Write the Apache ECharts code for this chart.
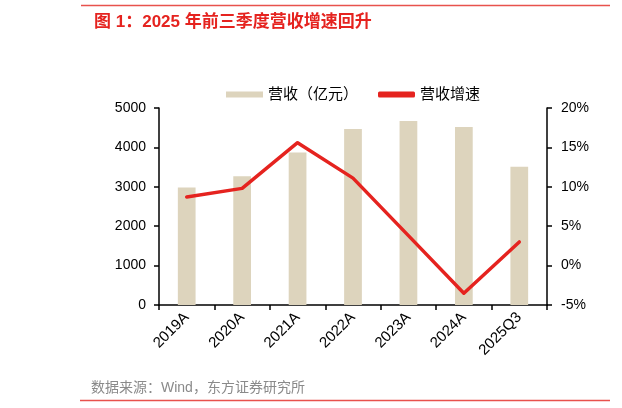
<!DOCTYPE html>
<html><head><meta charset="utf-8">
<script src="https://cdn.jsdelivr.net/npm/echarts@6/dist/echarts.min.js"></script>
<style>html,body{margin:0;padding:0;background:#fff}#c{width:622px;height:408px}</style>
</head><body><div id="c"></div>
<script>
const categories = ['2019A','2020A','2021A','2022A','2023A','2024A','2025Q3'];
const revenue = [2980, 3270, 3870, 4470, 4670, 4520, 3510];
const growth = [8.7, 9.8, 15.6, 11.1, 3.8, -3.5, 3.0];
const leftTicks = [0, 5000, 1000];
const rightTicks = [-5, 20, 5];
const FF = 'Liberation Sans, Arial, Noto Sans CJK SC, sans-serif';
const chart = echarts.init(document.getElementById('c'));
chart.setOption({
  animation: false,
  textStyle: {fontFamily: FF},
  title: {
    text: '图 1：2025 年前三季度营收增速回升',
    left: 89, top: 9,
    textStyle: {color: '#E5231F', fontSize: 17, fontWeight: 'bold', fontFamily: 'Liberation Sans, Noto Sans CJK SC, sans-serif'}
  },
  graphic: [
    {type: 'line', shape: {x1: 81, y1: 5.5, x2: 610, y2: 5.5}, style: {stroke: '#E8524D', lineWidth: 1.5}},
    {type: 'line', shape: {x1: 80, y1: 400.5, x2: 610, y2: 400.5}, style: {stroke: '#E8524D', lineWidth: 1.5}},
    {type: 'text', left: 91, top: 381, style: {text: '数据来源：Wind，东方证券研究所', fill: '#8a8a8a', font: '14px ' + FF}}
  ],
  legend: {
    top: 82, left: 221,
    itemGap: 20,
    itemWidth: 37, itemHeight: 6,
    textStyle: {fontSize: 15, color: '#000', fontFamily: FF},
    data: [{name: '营收（亿元）', icon: 'rect'}, {name: '营收增速', icon: 'roundRect', itemStyle: {color: '#E5231F'}}]
  },
  grid: {left: 159, right: 75, top: 108, bottom: 103},
  xAxis: {
    type: 'category', data: categories,
    axisLine: {lineStyle: {color: '#000', width: 1.5}},
    axisTick: {show: true, length: 5, lineStyle: {color: '#000', width: 1.5}},
    axisLabel: {rotate: 45, fontSize: 15, color: '#000', margin: 10}
  },
  yAxis: [
    {type: 'value', min: leftTicks[0], max: leftTicks[1], interval: leftTicks[2],
     axisLine: {show: true, lineStyle: {color: '#000', width: 1.5}},
     axisTick: {show: true, length: 5, lineStyle: {color: '#000', width: 1.5}},
     splitLine: {show: false},
     axisLabel: {fontSize: 14, color: '#000', margin: 13, formatter: v => String(v)}},
    {type: 'value', min: rightTicks[0], max: rightTicks[1], interval: rightTicks[2], position: 'right',
     axisLine: {show: true, lineStyle: {color: '#000', width: 1.5}},
     axisTick: {show: true, length: 5, lineStyle: {color: '#000', width: 1.5}},
     splitLine: {show: false},
     axisLabel: {fontSize: 14, color: '#000', margin: 14, formatter: '{value}%'}}
  ],
  series: [
    {name: '营收（亿元）', type: 'bar', data: revenue, barWidth: '32%', itemStyle: {color: '#DDD4BD'}},
    {name: '营收增速', type: 'line', yAxisIndex: 1, data: growth, symbol: 'none',
     lineStyle: {color: '#E5231F', width: 3.5, cap: 'round', join: 'round'}, itemStyle: {color: '#E5231F'}}
  ]
});
</script></body></html>
